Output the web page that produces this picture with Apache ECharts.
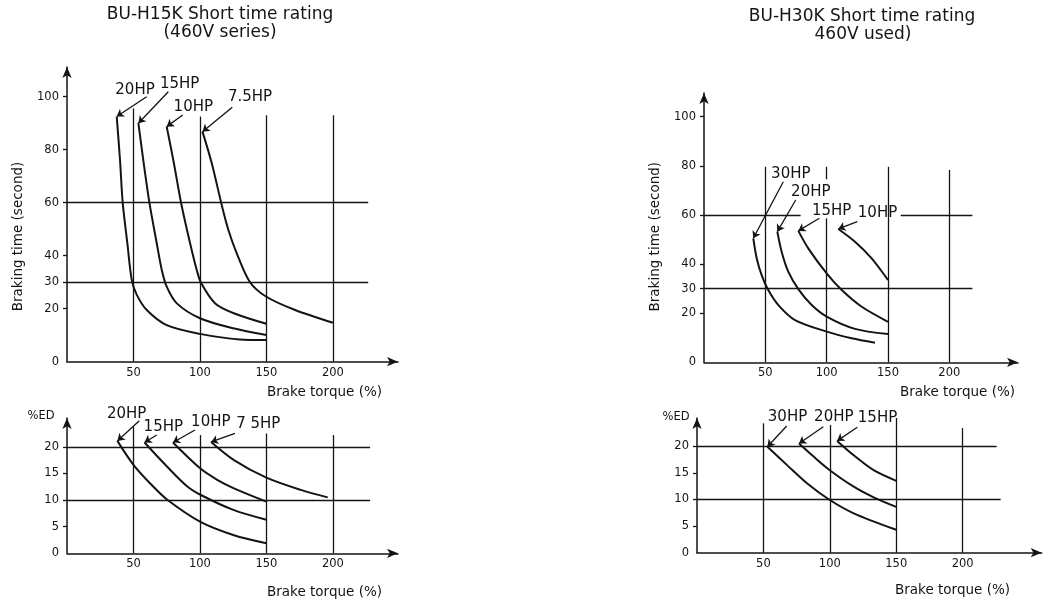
<!DOCTYPE html>
<html>
<head>
<meta charset="utf-8">
<title>BU-H15K / BU-H30K Short time rating</title>
<script src="https://cdn.jsdelivr.net/npm/echarts@6/dist/echarts.min.js"></script>
<style>
  html, body { margin: 0; padding: 0; background: #fff; }
  #chart { width: 1043px; height: 609px; }
</style>
</head>
<body>
<div id="chart"></div>
<script>
// ---- data ----
const torqueTicks = [50, 100, 150, 200]
const timeTicks = [0, 20, 30, 40, 60, 80, 100]
const edTicks = [0, 5, 10, 15, 20]

// BU-H15K, braking time (s) vs brake torque (%)
const hpH15Time = ['20HP', '15HP', '10HP', '7.5HP']
const timeH15_20 = [[37.4, 92.5], [39.9, 76], [41.9, 60], [45.4, 44.7], [48.7, 30.9], [52.5, 25.2], [60, 19.5], [75, 13.8], [100, 10.5], [130, 8.4], [150, 8.2]]
const timeH15_15 = [[53.7, 90], [57.4, 76], [62, 60], [67.5, 44.7], [71.3, 34.6], [75, 28.3], [82.6, 22], [100, 16.4], [125, 12.6], [150, 10.1]]
const timeH15_10 = [[75, 88.7], [80, 76], [85.8, 60], [92.6, 44.7], [97.6, 34.6], [100.8, 29.8], [111.5, 22], [125.5, 18.3], [150, 14.3]]
const timeH15_7 = [[101.9, 86.8], [108.9, 74.9], [116.4, 59.1], [121.4, 49.7], [127.7, 40.9], [137.7, 30], [150, 24.5], [171.6, 19.5], [200, 14.7]]

// BU-H15K, %ED vs brake torque (%)
const hpH15Ed = ['20HP', '15HP', '10HP', '7 5HP']
const edH15_20 = [[37.9, 21.1], [50, 16.6], [62.6, 13.1], [75.2, 10.1], [100.4, 5.9], [125.6, 3.4], [150, 1.9]]
const edH15_15 = [[58.3, 20.8], [75.2, 16.3], [90.3, 12.6], [101.1, 10.9], [125.6, 8.1], [150, 6.3]]
const edH15_10 = [[79.7, 20.8], [100.4, 15.9], [113, 13.8], [125.6, 12.2], [150, 9.7]]
const edH15_7 = [[108.4, 20.9], [125.6, 17.5], [150, 14.2], [175.9, 11.9], [196.1, 10.5]]

// BU-H30K, braking time (s)
const hpH30Time = ['30HP', '20HP', '15HP', '10HP']
const timeH30_30 = [[40.2, 50.5], [43, 42.3], [47, 35.5], [52.4, 29.4], [60.6, 23.3], [74.2, 17.2], [100, 12.5], [120.4, 9.8], [139.4, 8]]
const timeH30_20 = [[59.8, 53.2], [63.3, 45], [68.7, 36.9], [76.9, 29.8], [87.8, 23.3], [100, 18.6], [123.1, 13.6], [150, 11.5]]
const timeH30_15 = [[76.9, 53.5], [85, 46.4], [100, 36.2], [112.3, 29.4], [128.6, 22.6], [150, 16.5]]
const timeH30_10 = [[109.5, 54.3], [123.1, 49.1], [136.7, 42.3], [150, 33.5]]

// BU-H30K, %ED
const hpH30Ed = ['30HP', '20HP', '15HP']
const edH30_30 = [[53, 19.9], [68, 16.4], [83, 13], [100, 9.9], [118, 7.4], [150, 4.3]]
const edH30_20 = [[76.8, 20.5], [88, 18], [100, 15.5], [118, 12.4], [133, 10.4], [150, 8.6]]
const edH30_15 = [[105.5, 21], [118, 18.3], [133, 15.5], [150, 13.5]]

// ---- layout ----
const FONT = 'DejaVu Sans'
const INK = '#141414'

const panels = [
  { box: { left: 67, top: 67, width: 331, height: 294.7 }, xMax: 249, yMax: 111.2, yTicks: timeTicks,
    curves: [timeH15_20, timeH15_15, timeH15_10, timeH15_7], names: hpH15Time,
    // label centre + arrow tail, in pixels
    notes: [[135, 90.5, 146.7, 96.7], [179.7, 84.3, 168.3, 91.7], [193.3, 107.5, 182.7, 115], [250, 97.5, 232.3, 107.3]],
    hLines: [[30, 0, 226.6], [60, 0, 226.6]],
    vLines: [[50, 0, 95.6], [100, 0, 92.5], [150, 0, 93], [200, 0, 93]] },
  { box: { left: 67, top: 418, width: 331, height: 135.3 }, xMax: 249, yMax: 25.4, yTicks: edTicks,
    curves: [edH15_20, edH15_15, edH15_10, edH15_7], names: hpH15Ed,
    notes: [[126.7, 413.8, 139.3, 420.7], [163.3, 427.5, 156.7, 435], [210.8, 422.5, 195, 430], [258.3, 424, 235, 433.3]],
    hLines: [[10, 0, 228], [20, 0, 228]],
    vLines: [[50, 0, 23.75], [100, 0, 22.2], [150, 0, 22.5], [200, 0, 22.2]] },
  { box: { left: 704, top: 93, width: 314, height: 269.3 }, xMax: 256, yMax: 109.65, yTicks: timeTicks,
    curves: [timeH30_30, timeH30_20, timeH30_15, timeH30_10], names: hpH30Time,
    notes: [[790.8, 174, 783.3, 181.7], [810.8, 192.5, 795.7, 200], [831.7, 210.8, 819.3, 218.3], [877.5, 213.3, 857.3, 221.7]],
    hLines: [[30, 0, 218.8], [60, 0, 78.8], [60, 160.4, 218.8]],
    vLines: [[50, 0, 79.6], [100, 0, 58.6], [100, 74.5, 79.6], [150, 0, 79.6], [200, 0, 78.3]] },
  { box: { left: 697, top: 418, width: 344.7, height: 134.7 }, xMax: 259.5, yMax: 25.3, yTicks: edTicks,
    curves: [edH30_30, edH30_20, edH30_15], names: hpH30Ed,
    notes: [[787.5, 417, 786.7, 426], [833.8, 417.5, 823.3, 426.7], [877.5, 418, 857.3, 427.3]],
    hLines: [[10, 0, 228.6], [20, 0, 225.6]],
    vLines: [[50, 0, 24.3], [100, 0, 24], [150, 0, 25.3], [200, 0, 23.4]] },
]

const axisLine = {
  show: true,
  onZero: false,
  symbol: ['none', 'arrow'],
  symbolSize: [7, 11],
  lineStyle: { color: INK, width: 1.5 },
}
const tickText = { color: INK, fontFamily: FONT, fontSize: 11.5 }

const grid = []
const xAxis = []
const yAxis = []
const series = []
const graphic = []

function text(str, x, y, size, align, extra) {
  return Object.assign({
    type: 'text', x, y, z: 100, silent: true,
    style: { text: str, fontFamily: FONT, fontSize: size, fill: INK, align: align || 'center', verticalAlign: 'middle' },
  }, extra || {})
}

panels.forEach((p, i) => {
  grid.push(Object.assign({ outerBoundsMode: 'none' }, p.box))
  xAxis.push({
    gridIndex: i, type: 'value', min: 0, max: p.xMax,
    axisLine, axisTick: { show: false }, splitLine: { show: false },
    axisLabel: Object.assign({ customValues: torqueTicks, margin: 5 }, tickText),
  })
  yAxis.push({
    gridIndex: i, type: 'value', min: 0, max: p.yMax,
    axisLine,
    axisTick: { show: true, customValues: p.yTicks.filter(v => v > 0), length: 4, lineStyle: { color: INK, width: 1.3 } },
    splitLine: { show: false },
    axisLabel: Object.assign({ customValues: p.yTicks, margin: 8 }, tickText),
  })

  // partial grid lines of the original sheet
  const lines = []
  p.hLines.forEach(([y, x0, x1]) => lines.push([{ coord: [x0, y] }, { coord: [x1, y] }]))
  p.vLines.forEach(([x, y0, y1]) => lines.push([{ coord: [x, y0] }, { coord: [x, y1] }]))
  series.push({
    type: 'line', xAxisIndex: i, yAxisIndex: i, data: [], silent: true,
    markLine: {
      silent: true, symbol: 'none', label: { show: false }, animation: false,
      lineStyle: { color: INK, width: 1.3, type: 'solid' },
      data: lines,
    },
  })

  p.curves.forEach((c, k) => {
    const [lx, ly, tx, ty] = p.notes[k]
    series.push({
      name: p.names[k],
      type: 'line', xAxisIndex: i, yAxisIndex: i,
      data: c,
      smooth: 0.3,
      showSymbol: false,
      silent: true,
      lineStyle: { color: INK, width: 2 },
      markLine: {
        silent: true,
        symbol: ['none', 'arrow'],
        symbolSize: 7,
        label: { show: false },
        animation: false,
        lineStyle: { color: INK, width: 1.3, type: 'solid' },
        data: [[{ x: tx, y: ty }, { coord: c[0] }]],
      },
    })
    graphic.push(text(p.names[k], lx, ly, 15))
  })
})

// titles and axis names
graphic.push(
  text('BU-H15K Short time rating', 220, 15, 17),
  text('(460V series)', 220, 33, 17),
  text('BU-H30K Short time rating', 862, 17, 17),
  text('460V used)', 863, 35, 17),
  text('Braking time (second)', 18, 236.5, 13.5, 'center', { rotation: Math.PI / 2 }),
  text('Braking time (second)', 655, 236.7, 13.5, 'center', { rotation: Math.PI / 2 }),
  text('%ED', 41, 416, 11.5),
  text('%ED', 676, 417, 11.5),
  text('Brake torque (%)', 382, 392, 13.5, 'right'),
  text('Brake torque (%)', 382, 592, 13.5, 'right'),
  text('Brake torque (%)', 1015, 392, 13.5, 'right'),
  text('Brake torque (%)', 1010, 590, 13.5, 'right'),
)

const chart = echarts.init(document.getElementById('chart'))
chart.setOption({
  animation: false,
  backgroundColor: '#fff',
  grid, xAxis, yAxis, series, graphic,
})
</script>
</body>
</html>
